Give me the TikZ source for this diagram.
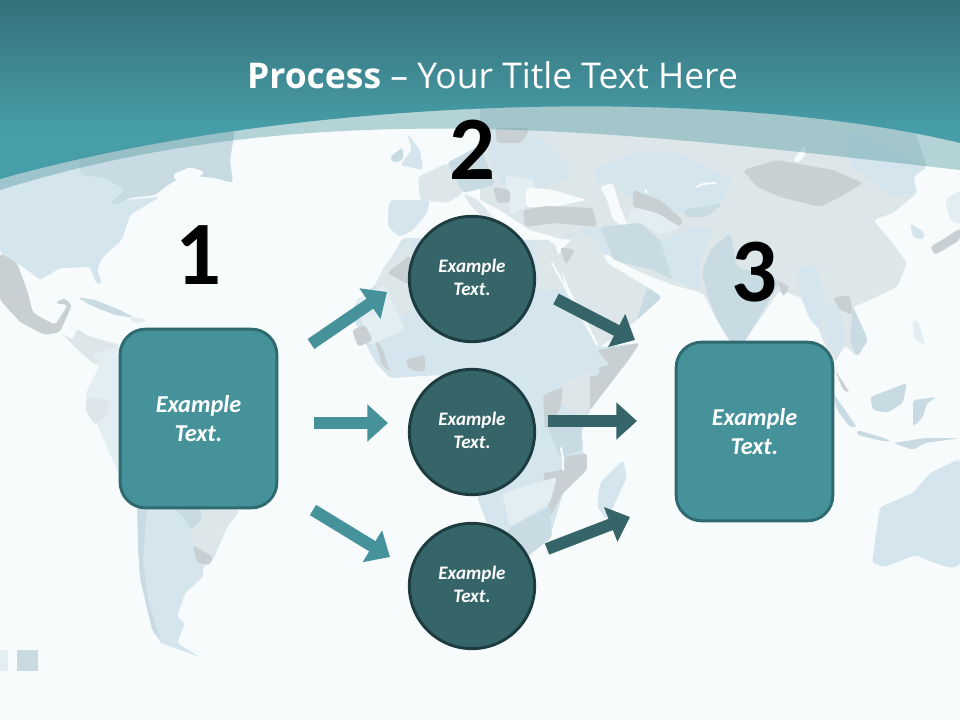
\documentclass[tikz,border=0pt]{standalone}
\usepackage{fontspec}
\setmainfont{Carlito}
\newfontfamily\titlefont{Open Sans}
\usetikzlibrary{arrows.meta}
\definecolor{bgc}{HTML}{F7FBFC}
\definecolor{lb}{HTML}{D5E5ED}
\definecolor{pb}{HTML}{E3EEF3}
\definecolor{mb}{HTML}{C9DBE2}
\definecolor{gr}{HTML}{C8D0D3}
\definecolor{lg}{HTML}{DDE6E9}
\definecolor{tealA}{HTML}{46929B}
\definecolor{tealB}{HTML}{2F6A70}
\definecolor{darkA}{HTML}{356568}
\definecolor{darkB}{HTML}{1C3C40}
\definecolor{headT}{HTML}{35707A}
\definecolor{headB}{HTML}{479EA8}
\tikzset{
  land/.style={fill=#1,draw=none,rounded corners=2.5pt},
  water/.style={draw=bgc,line width=1.5pt,line cap=round},
  boxnode/.style={draw=tealB,fill=tealA,line width=2.2pt,rounded corners=19pt,minimum width=117.5pt,minimum height=134pt,text=white,align=center,font=\bfseries\itshape\fontsize{18.2}{21.7}\selectfont},
  circnode/.style={circle,draw=darkB,fill=darkA,line width=2.2pt,minimum size=94pt,inner sep=0pt,text=white,align=center,text depth=2.2pt,font=\bfseries\itshape\fontsize{14.3}{17.2}\selectfont},
  numnode/.style={text=black,font=\bfseries\fontsize{68}{68}\selectfont,inner sep=0pt},
  arrowA/.style={draw=tealA,line width=9pt,-{Triangle[length=15.5pt,width=27pt]}},
  arrowB/.style={draw=darkA,line width=9pt,-{Triangle[length=15.5pt,width=27pt]}},
}
\begin{document}
\begin{tikzpicture}[x=0.75pt,y=-0.75pt]
\useasboundingbox (0,0) rectangle (960,720);
\fill[bgc] (0,0) rectangle (960,720);
\begin{scope}
\clip (0,0) rectangle (960,720);
% North America
\fill[land=lb] (0,150)--(120,150)--(125,190)--(112,203)--(125,200)--(160,197)--(130,215)--(122,240)--(102,258)--(97,270)--(102,283)--(97,285)--(90,267)--(60,268)--(40,280)--(30,272)--(15,262)--(0,253)--cycle;
\fill[land=mb] (80,130)--(235,130)--(230,160)--(233,183)--(215,178)--(185,175)--(168,185)--(155,195)--(130,198)--(115,205)--(110,203)--(125,190)--(105,178)--(80,175)--cycle;
\fill[land=bgc] (172,175)--(190,167)--(205,172)--(195,180)--(180,185)--cycle;
\fill[land=gr] (0,253)--(17,263)--(27,290)--(33,313)--(55,325)--(68,305)--(55,303)--(64,298)--(72,305)--(60,332)--(45,335)--(20,322)--(0,300)--cycle;
\fill[land=mb] (77,297)--(95,300)--(120,310)--(135,318)--(115,315)--(90,305)--cycle;
\fill[land=pb] (130,317)--(143,318)--(147,322)--(132,323)--cycle;
\fill[land=mb] (138,150)--(150,148)--(148,160)--(142,163)--cycle;
% Central and South America
\fill[land=lg] (60,332)--(72,340)--(78,328)--(85,335)--(120,345)--(120,360)--(95,365)--(78,350)--cycle;
\fill[land=pb] (90,355)--(120,345)--(130,480)--(120,478)--(85,395)--(100,365)--cycle;
\fill[land=lg] (87,397)--(108,400)--(110,412)--(95,425)--(85,410)--cycle;
\fill[land=lb] (138,508)--(138,547)--(140,577)--(148,613)--(160,643)--(200,657)--(177,643)--(185,623)--(177,617)--(185,593)--(203,577)--(203,567)--(213,560)--(227,527)--(240,510)--cycle;
\fill[land=mb] (137,505)--(147,505)--(143,560)--(148,600)--(160,640)--(152,630)--(140,577)--(138,547)--cycle;
\fill[land=lg] (200,505)--(240,510)--(227,527)--(213,558)--(193,545)--(190,530)--(202,520)--cycle;
\fill[land=mb] (172,505)--(200,505)--(202,520)--(190,530)--(186,520)--cycle;
\fill[land=gr] (193,545)--(213,557)--(210,565)--(197,563)--cycle;
% Eurasia base
\fill[land=lg] (480,100)--(905,100)--(927,167)--(913,177)--(917,193)--(893,213)--(873,220)--(890,240)--(907,263)--(897,287)--(870,300)--(853,307)--(868,340)--(857,357)--(845,345)--(835,362)--(825,345)--(818,328)--(807,300)--(780,290)--(750,333)--(737,353)--(717,320)--(703,293)--(673,285)--(640,272)--(612,258)--(590,235)--(565,240)--(530,230)--(500,210)--(480,200)--cycle;
\fill[land=lb] (847,130)--(927,167)--(913,177)--(917,193)--(890,195)--(850,165)--cycle;
% Europe
\fill[land=lb] (407,133)--(420,150)--(423,170)--(400,165)--(412,150)--cycle;
\fill[land=mb] (390,157)--(403,147)--(403,160)--(393,163)--cycle;
\fill[land=lb] (388,213)--(390,200)--(430,200)--(427,213)--(413,230)--(400,237)--(388,227)--cycle;
\fill[land=lg] (420,200)--(418,177)--(447,163)--(463,193)--(447,203)--cycle;
\fill[land=mb] (447,163)--(480,145)--(495,185)--(463,193)--cycle;
\fill[land=lg] (463,193)--(478,200)--(500,225)--(490,225)--(470,205)--cycle;
\fill[land=lb] (480,130)--(530,130)--(570,165)--(565,180)--(530,190)--(500,185)--cycle;
\fill[land=pb] (505,175)--(535,180)--(530,205)--(510,215)--cycle;
\fill[land=gr] (493,187)--(510,190)--(510,203)--(497,203)--cycle;
\fill[land=gr] (495,128)--(530,128)--(522,143)--(497,143)--cycle;
\fill[land=bgc] (526,187)--(553,190)--(587,200)--(553,207)--(526,207)--cycle;
% Central Asia
\fill[land=lb] (593,170)--(640,150)--(680,153)--(733,180)--(720,203)--(683,213)--(633,200)--(613,183)--(597,183)--cycle;
\fill[land=gr] (743,170)--(777,160)--(833,170)--(863,183)--(840,197)--(820,207)--(780,197)--(757,187)--cycle;
\fill[land=gr] (633,190)--(660,200)--(683,220)--(680,227)--(657,213)--(633,207)--cycle;
\fill[land=mb] (683,210)--(723,203)--(707,217)--(687,217)--cycle;
\fill[land=pb] (633,207)--(657,213)--(680,227)--(660,235)--(640,222)--(625,225)--cycle;
\fill[land=bgc] (600,187)--(613,183)--(620,207)--(630,230)--(613,220)--(607,200)--cycle;
\fill[land=bgc] (793,160)--(805,145)--(805,157)--(797,163)--cycle;
\fill[land=bgc] (643,190)--(648,188)--(646,195)--cycle;
\draw[water] (697,187)--(703,184)--(715,183);
\fill[land=gr] (523,210)--(547,206)--(593,208)--(597,227)--(555,223)--(525,227)--cycle;
\fill[land=mb] (600,227)--(640,223)--(660,240)--(673,280)--(653,270)--(613,260)--cycle;
\fill[land=lb] (660,240)--(693,227)--(713,230)--(700,260)--(700,290)--(673,280)--cycle;
\fill[land=mb] (702,273)--(710,250)--(730,233)--(737,267)--(780,280)--(777,287)--(750,333)--(737,353)--(717,320)--(707,293)--cycle;
\fill[land=gr] (777,280)--(790,287)--(783,297)--cycle;
\fill[land=lb] (797,268)--(815,265)--(825,295)--(820,330)--(810,320)--(800,295)--cycle;
\fill[land=lb] (822,305)--(838,305)--(845,338)--(837,358)--(826,342)--cycle;
\fill[land=gr] (833,298)--(850,295)--(853,315)--(840,310)--cycle;
\fill[land=mb] (853,307)--(868,340)--(857,357)--(850,340)--cycle;
\fill[land=lb] (910,223)--(925,233)--(923,240)--(913,237)--cycle;
\fill[land=gr] (930,247)--(947,237)--(960,228)--(960,240)--(935,255)--cycle;
\fill[land=pb] (945,200)--(960,190)--(960,225)--(950,220)--cycle;
% Middle East
\fill[land=lb] (563,235)--(600,228)--(613,256)--(590,252)--(573,240)--cycle;
\fill[land=lg] (556,257)--(580,230)--(600,245)--(607,263)--(647,287)--(662,297)--(637,320)--(600,347)--(590,328)--(570,290)--cycle;
\fill[land=mb] (637,320)--(662,297)--(647,287)--(640,310)--cycle;
\fill[land=gr] (560,247)--(575,250)--(566,265)--cycle;
% Africa
\fill[land=lb] (403,238)--(550,240)--(566,292)--(590,332)--(600,347)--(640,343)--(627,360)--(590,410)--(580,437)--(587,470)--(563,493)--(550,537)--(527,557)--(500,560)--(490,530)--(478,500)--(470,440)--(460,400)--(440,375)--(390,378)--(375,362)--(353,318)--(355,303)--(375,285)--(387,265)--cycle;
\fill[land=lg] (385,265)--(410,240)--(420,300)--(400,320)--(375,285)--cycle;
\fill[land=gr] (387,273)--(410,255)--(410,285)--cycle;
\fill[land=pb] (355,300)--(385,285)--(405,330)--(370,345)--cycle;
\fill[land=gr] (352,330)--(365,325)--(373,340)--(358,347)--cycle;
\fill[land=gr] (375,340)--(382,347)--(390,372)--(382,365)--cycle;
\fill[land=gr] (405,360)--(425,355)--(425,372)--(410,370)--cycle;
\fill[land=lg] (535,240)--(555,243)--(566,290)--(535,290)--cycle;
\fill[land=gr] (597,350)--(640,343)--(627,362)--(590,410)--(590,370)--(610,365)--cycle;
\fill[land=lb] (535,345)--(595,350)--(600,375)--(560,380)--(540,365)--cycle;
\fill[land=lg] (560,385)--(590,370)--(590,410)--(580,417)--(562,405)--cycle;
\fill[land=gr] (543,395)--(563,387)--(560,410)--(545,430)--cycle;
\fill[land=mb] (547,427)--(580,417)--(583,450)--(560,457)--cycle;
\fill[land=gr] (563,457)--(587,453)--(587,470)--(563,493)--(550,517)--(543,473)--(563,470)--cycle;
\fill[land=pb] (502,493)--(557,477)--(550,503)--(510,527)--cycle;
\fill[land=mb] (510,527)--(550,507)--(552,537)--(527,557)--(500,560)--cycle;
\draw[water] (561,448)--(563,458)--(563,470);
\draw[water] (552,263)--(568,292)--(597,345);
\fill[land=lb] (600,483)--(623,460)--(627,477)--(607,520)--(597,507)--cycle;
% Indonesia and Australia
\fill[land=gr] (835,370)--(850,393)--(843,390)--cycle;
\fill[land=mb] (833,393)--(857,427)--(850,427)--(837,410)--cycle;
\fill[land=mb] (857,430)--(890,440)--(887,442)--(857,435)--cycle;
\fill[land=mb] (870,397)--(907,383)--(903,403)--(887,413)--(873,410)--cycle;
\fill[land=mb] (913,400)--(937,397)--(927,403)--(923,417)--(913,427)--cycle;
\fill[land=mb] (893,443)--(925,438)--(960,438)--(925,443)--(913,450)--cycle;
\fill[land=pb] (912,320)--(918,320)--(925,345)--(915,340)--cycle;
\fill[land=lb] (872,563)--(877,527)--(880,507)--(913,493)--(930,473)--(957,460)--(960,460)--(960,565)--(953,568)--(940,565)--(915,555)--(885,567)--cycle;
% Squares
\fill[pb] (0,650) rectangle (8,671);
\fill[mb!90!gr] (17,650) rectangle (38,671);
% Header
\fill[tealA,opacity=0.38] (0,190) .. controls (320,90) and (640,134) .. (960,170) -- (960,90) -- (0,90) -- cycle;
\begin{scope}
\clip (0,0) -- (960,0) -- (960,143) .. controls (720,85) and (300,95) .. (0,179) -- cycle;
\fill[headB] (0,130) rectangle (960,180);
\shade[top color=headT,bottom color=headB] (0,0) rectangle (960,131);
\end{scope}
\end{scope}
% Title
\node[text=white,inner sep=0pt] (title) at (492.5,75) {\titlefont\fontsize{26.6}{26.6}\selectfont\textbf{Process} – Your Title Text Here};
% Numbers
\node[numnode] (n1) at (198,255) {1};
\node[numnode] (n2) at (472.5,150) {2};
\node[numnode] (n3) at (754,272) {3};
% Nodes
\node[boxnode] (b1) at (198.5,418.5) {Example\\Text.};
\node[boxnode] (b3) at (754.5,431.5) {Example\\Text.};
\node[circnode] (c1) at (472,279) {Example\\Text.};
\node[circnode] (c2) at (472,432) {Example\\Text.};
\node[circnode] (c3) at (472,586) {Example\\Text.};
% Arrow end points
\coordinate (a1s) at (311,344); \coordinate (a1e) at (387,292);
\coordinate (a2s) at (314,423); \coordinate (a2e) at (388,423);
\coordinate (a3s) at (313,510); \coordinate (a3e) at (390,557);
\coordinate (a4s) at (556,299); \coordinate (a4e) at (635,340);
\coordinate (a5s) at (548,421); \coordinate (a5e) at (637,421);
\coordinate (a6s) at (547,549); \coordinate (a6e) at (630,517);
\draw[arrowA] (a1s) -- (a1e);
\draw[arrowA] (a2s) -- (a2e);
\draw[arrowA] (a3s) -- (a3e);
\draw[arrowB] (a4s) -- (a4e);
\draw[arrowB] (a5s) -- (a5e);
\draw[arrowB] (a6s) -- (a6e);
\end{tikzpicture}
\end{document}
